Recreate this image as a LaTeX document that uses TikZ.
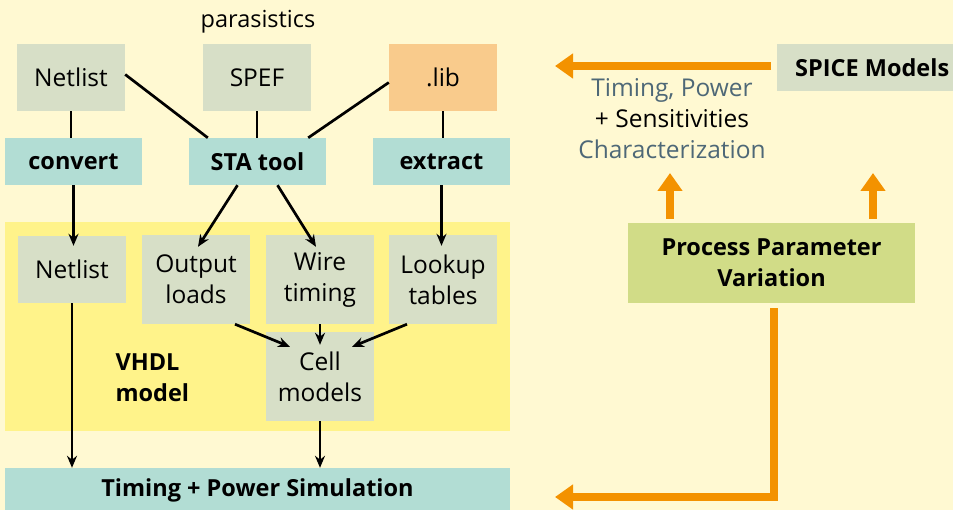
\documentclass[tikz,border=0pt]{standalone}
\usepackage{fontspec}
\setmainfont{Open Sans}
\usepackage{xcolor}
\usepackage{tikz}
\usetikzlibrary{calc,arrows.meta,positioning}
\definecolor{creamx}{HTML}{FFF9D2}
\definecolor{sagex}{HTML}{D7DFC7}
\definecolor{tealx}{HTML}{B2DDD4}
\definecolor{peachx}{HTML}{F9CB8C}
\definecolor{lemonx}{HTML}{FFF38A}
\definecolor{olivex}{HTML}{D1DC87}
\definecolor{orangex}{HTML}{F39200}
\definecolor{slatex}{HTML}{4E6877}
\tikzset{
  ar/.style={-{Stealth[length=12pt,width=10pt]},line width=2.7pt,black},
  ln/.style={line width=2.7pt,black},
  oar/.style={-{Triangle[length=18pt,width=24pt]},line width=8pt,orangex},
  box/.style={fill=sagex,minimum width=108pt,align=center,inner sep=2pt,
    font=\fontsize{24.5}{31}\selectfont},
  tool/.style={fill=tealx,minimum width=137pt,minimum height=47pt,inner sep=2pt,
    font=\fontsize{23.5}{28}\selectfont\bfseries}
}
\begin{document}
\begin{tikzpicture}[x=1pt,y=-1pt]
\useasboundingbox (0,0) rectangle (953,510);
\fill[creamx] (0,0) rectangle (953,510);
\clip (0,0) rectangle (953,510);
% VHDL model area
\fill[lemonx] (5,222) rectangle (510,431);
% inputs
\node[box,minimum height=67pt] (netA) at (71,77.5) {Netlist};
\node[box,minimum height=67pt] (spef) at (257,77.5) {SPEF};
\node[box,minimum height=67pt,fill=peachx] (lib) at (443,77.5) {.lib};
\node[font=\fontsize{23.5}{28}\selectfont] (para) at (258,22) {parasistics};
\node[tool] (convert) at (73.5,161.5) {convert};
\node[tool] (sta) at (257.5,161.5) {STA tool};
\node[tool] (extract) at (441.5,161.5) {extract};
% model parts
\node[box,minimum height=67pt] (netB) at (72,269.5) {Netlist};
\node[box,minimum height=89pt] (outld) at (196,279.5) {Output\\loads};
\node[box,minimum height=89pt] (wire) at (320,279.5) {Wire\\timing};
\node[box,minimum height=89pt] (lookup) at (443,279.5) {Lookup\\tables};
\node[box,minimum height=89pt] (cell) at (320,376.5) {Cell\\models};
\node[anchor=west,align=left,font=\fontsize{23.5}{31}\selectfont\bfseries] (vhdl) at (112,378) {VHDL\\model};
\node[tool,minimum width=505pt,minimum height=60pt,text depth=20pt] (sim) at (257.5,498) {Timing + Power Simulation};
% characterization side
\node[box,anchor=west,minimum width=190pt,minimum height=47pt,font=\fontsize{23.5}{28}\selectfont\bfseries] (spice) at (777,67.5) {SPICE Models};
\node[align=center,font=\fontsize{24.5}{31}\selectfont,text=slatex] (charz) at (672,119)
  {Timing, Power\\\textcolor{black}{+ Sensitivities}\\Characterization};
\node[fill=olivex,minimum width=287pt,minimum height=80pt,align=center,
  font=\fontsize{23.5}{31}\selectfont\bfseries] (ppv) at (771.5,263) {Process Parameter\\Variation};
\coordinate (libin) at (555,66);
\coordinate (upL) at (670,173);
\coordinate (upR) at (873,173);
\coordinate (simin) at (555,497);

\draw[ln] (netA.south) -- (netA.south |- convert.north);
\draw[ln] (spef.south) -- (spef.south |- sta.north);
\draw[ln] (lib.south) -- (lib.south |- extract.north);
\draw[ln] ([yshift=3pt]netA.east) -- ([xshift=19pt]sta.north west);
\draw[ln] ([yshift=-5pt]lib.west) -- ([xshift=-18pt]sta.north east);
\draw[ar] (convert.south) -- ([yshift=-10pt]convert.south |- netB.north);
\draw[ar] ([xshift=-20pt]sta.south) -- ([xshift=2pt,yshift=-12pt]outld.north);
\draw[ar] ([xshift=20pt]sta.south) -- ([xshift=-4pt,yshift=-12pt]wire.north);
\draw[ar] (extract.south) -- ([yshift=-11pt]extract.south |- lookup.north);
\draw[ar] ([xshift=39pt]outld.south) -- ([xshift=-30pt,yshift=-15pt]cell.north);
\draw[ar] (wire.south) -- ([yshift=-13pt]cell.north);
\draw[ar] ([xshift=-36pt]lookup.south) -- ([xshift=32pt,yshift=-15pt]cell.north);
\draw[ar] (cell.south) -- (cell.south |- sim.north);
\draw[ar] (netB.south) -- (netB.south |- sim.north);
\draw[oar,shorten <=6pt] (spice.west |- libin) -- (libin);
\draw[oar,shorten <=4pt] (ppv.north -| upL) -- (upL);
\draw[oar,shorten <=4pt] (ppv.north -| upR) -- (upR);
\draw[oar] ([xshift=2.5pt,yshift=-5pt]ppv.south) |- (simin);
\end{tikzpicture}
\end{document}
